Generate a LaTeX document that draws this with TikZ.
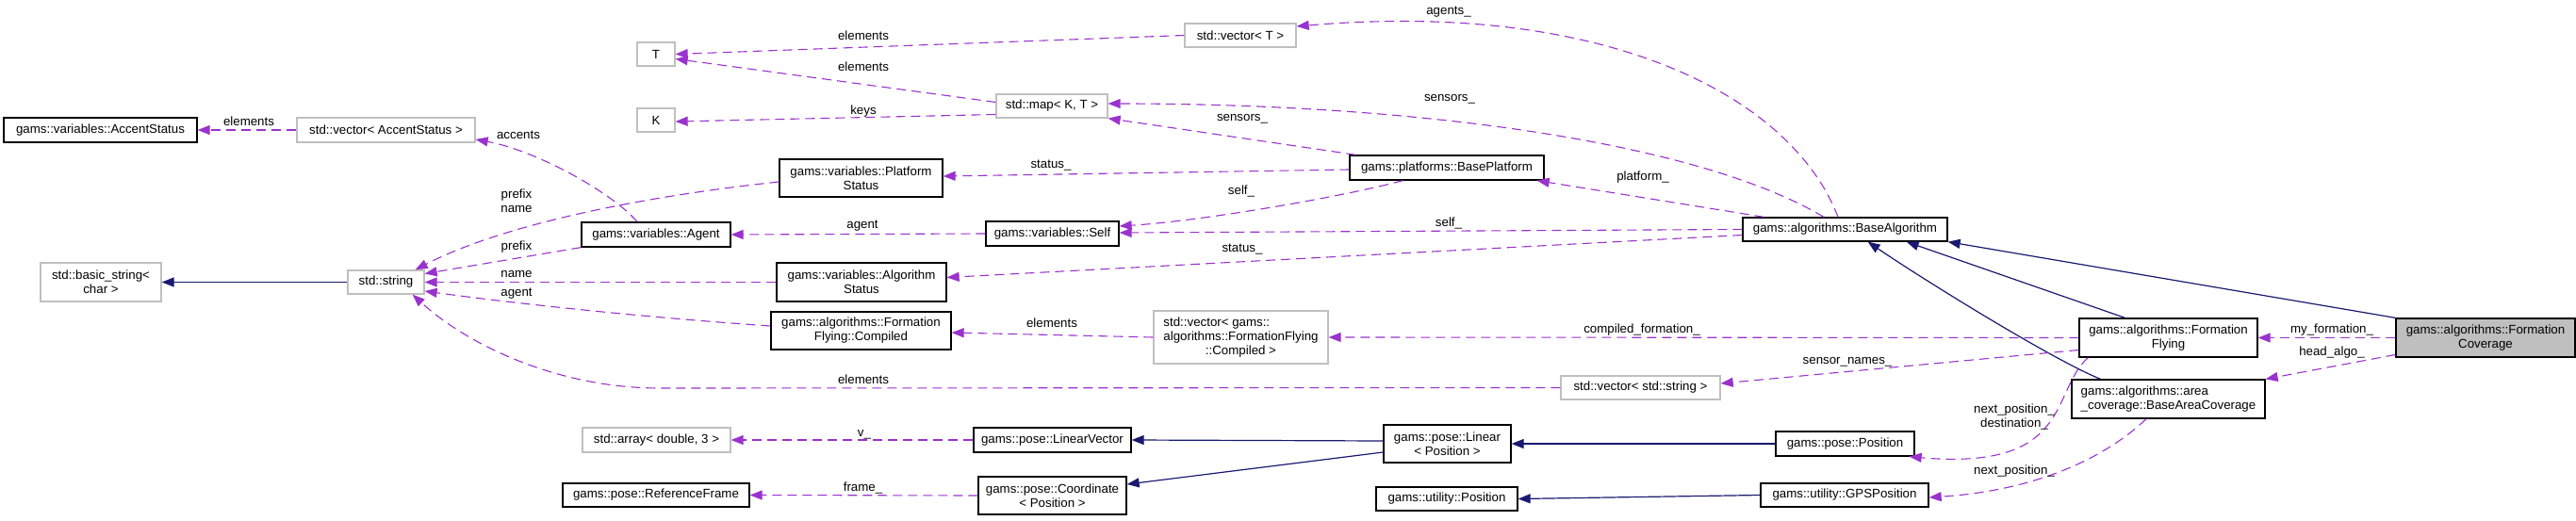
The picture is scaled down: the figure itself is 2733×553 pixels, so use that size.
\documentclass[tikz,border=0pt]{standalone}
\usepackage{fontspec}
\setmainfont{Liberation Sans}
\usetikzlibrary{arrows.meta}
\definecolor{dpurple}{HTML}{9A32CD}
\definecolor{dnavy}{HTML}{191970}
\definecolor{greyl}{HTML}{BFBFBF}
\tikzset{
  cls/.style={draw=black, line width=1.3pt, fill=white, inner sep=0pt, align=center},
  ext/.style={draw=greyl, line width=1.3pt, fill=white, inner sep=0pt, align=center},
  dep/.style={draw=dpurple, line width=1.1pt, dash pattern=on 10pt off 6pt,
    -{Triangle[length=13pt,width=10pt,fill=dpurple]}},
  inh/.style={draw=dnavy, line width=1.2pt,
    -{Triangle[length=13pt,width=10pt,fill=dnavy]}},
  lbl/.style={inner sep=0pt, text height=9.5pt, text depth=2.5pt},
  lbltwo/.style={inner sep=0pt, align=center},
}
\begin{document}
\begin{tikzpicture}[x=1pt,y=-1pt,font=\fontsize{13.3}{15}\selectfont]
\useasboundingbox (0,0) rectangle (2733,553);

% nodes
\node[cls, minimum width=205pt, minimum height=26pt] (accent) at (106.5,138) {gams::variables::AccentStatus};
\node[ext, minimum width=189pt, minimum height=26pt] (vacc) at (409.5,138) {std::vector< AccentStatus >};
\node[ext, minimum width=128pt, minimum height=41pt] (bstr) at (107,299.5) {std::basic\_string<\\char >};
\node[ext, minimum width=81pt, minimum height=25pt] (str) at (409.5,299.5) {std::string};
\node[ext, minimum width=40pt, minimum height=25pt] (t) at (696,57.5) {T};
\node[ext, minimum width=40pt, minimum height=25pt] (k) at (696,127.5) {K};
\node[ext, minimum width=118pt, minimum height=25pt] (vt) at (1316,37.5) {std::vector< T >};
\node[ext, minimum width=118pt, minimum height=25pt] (map) at (1116,112.5) {std::map< K, T >};
\node[cls, minimum width=173pt, minimum height=40pt] (pstat) at (913.5,189) {gams::variables::Platform\\Status};
\node[cls, minimum width=158pt, minimum height=26pt] (agent) at (696,249) {gams::variables::Agent};
\node[cls, minimum width=141pt, minimum height=26pt] (self) at (1116.5,248) {gams::variables::Self};
\node[cls, minimum width=206pt, minimum height=26pt] (bplat) at (1535,178) {gams::platforms::BasePlatform};
\node[cls, minimum width=180pt, minimum height=41pt] (astat) at (914,299.5) {gams::variables::Algorithm\\Status};
\node[cls, minimum width=191pt, minimum height=40pt] (comp) at (913.5,351) {gams::algorithms::Formation\\Flying::Compiled};
\node[ext, minimum width=185pt, minimum height=56pt] (vcomp) at (1316.5,358) {\begin{tabular}{@{}l@{}}std::vector< gams::\\algorithms::FormationFlying\\\multicolumn{1}{@{}c@{}}{::Compiled >}\end{tabular}};
\node[ext, minimum width=169pt, minimum height=25pt] (vstr) at (1740.5,411.5) {std::vector< std::string >};
\node[ext, minimum width=157pt, minimum height=26pt] (arr) at (696.5,467) {std::array< double, 3 >};
\node[cls, minimum width=198pt, minimum height=25pt] (rframe) at (696,525.5) {gams::pose::ReferenceFrame};
\node[cls, minimum width=167pt, minimum height=26pt] (linvec) at (1116.5,467) {gams::pose::LinearVector};
\node[cls, minimum width=157pt, minimum height=40pt] (coord) at (1116.5,526) {gams::pose::Coordinate\\< Position >};
\node[cls, minimum width=135pt, minimum height=40pt] (lin) at (1535.5,471) {gams::pose::Linear\\< Position >};
\node[cls, minimum width=150pt, minimum height=25pt] (upos) at (1535,529.5) {gams::utility::Position};
\node[cls, minimum width=217pt, minimum height=25pt] (balg) at (1957.5,243.5) {gams::algorithms::BaseAlgorithm};
\node[cls, minimum width=147pt, minimum height=26pt] (ppos) at (1957.5,471) {gams::pose::Position};
\node[cls, minimum width=178pt, minimum height=25pt] (gps) at (1957,525.5) {gams::utility::GPSPosition};
\node[cls, minimum width=189pt, minimum height=41pt] (ff) at (2300.5,358.5) {gams::algorithms::Formation\\Flying};
\node[cls, minimum width=205pt, minimum height=41pt] (bac) at (2300.5,423.5) {\begin{tabular}{@{}l@{}}gams::algorithms::area\\\_coverage::BaseAreaCoverage\end{tabular}};
\node[cls, fill=greyl, minimum width=190pt, minimum height=41pt] (fc) at (2637,358.5) {gams::algorithms::Formation\\Coverage};

% inheritance
\draw[inh] (str.west) -- (bstr.east);
\draw[inh] ([yshift=3pt]lin.west) -- (linvec.east);
\draw[inh] ([yshift=-9pt]lin.west) -- ([yshift=12pt]coord.east);
\draw[inh] (ppos.west) -- (lin.east);
\draw[inh] (gps.west) -- (upos.east);
\draw[inh] ([xshift=-46pt]ff.north) -- ([xshift=-44pt]balg.south east);
\draw[inh] (fc.north west) -- (balg.south east);
\draw[inh] ([xshift=-72pt]bac.north) .. controls (2178,382) and (2041,297) .. ([xshift=-85pt]balg.south east);

% usage
\draw[dep] (vacc.west) -- (accent.east);
\draw[dep] ([xshift=-20pt]agent.north) .. controls (650,205) and (570,160) .. ([yshift=-10pt]vacc.east);
\draw[dep] ([yshift=-4pt]pstat.west) .. controls (650,212) and (520,245) .. ([xshift=-10pt]str.north east);
\draw[dep] (agent.south west) -- ([yshift=9pt]str.east);
\draw[dep] (astat.west) -- (str.east);
\draw[dep] ([yshift=5pt]comp.west) .. controls (700,338) and (560,324) .. ([yshift=-9.5pt]str.east);
\coordinate (bend) at (700,412);
\draw[dep] (vstr.west) -- (bend) .. controls (590,412) and (495,365) .. ([xshift=-13pt]str.south east);
\draw[dep] (vt.west) -- (t.east);
\draw[dep] ([yshift=4pt]map.west) -- ([yshift=-5pt]t.east);
\draw[dep] ([yshift=-9pt]map.west) -- ([yshift=-1.5pt]k.east);
\draw[dep] (self.west) -- (agent.east);
\draw[dep] ([yshift=-2pt]bplat.west) -- ([yshift=2pt]pstat.east);
\draw[dep] ([xshift=7pt]bplat.north west) -- (map.south east);
\draw[dep] ([xshift=57pt]bplat.south west) .. controls (1420,210) and (1270,235) .. ([yshift=8pt]self.east);
\draw[dep] ([xshift=-7.5pt]balg.north) .. controls (1900,100) and (1700,0) .. ([yshift=9.5pt]vt.east);
\draw[dep] ([xshift=-22.5pt]balg.north) .. controls (1800,150) and (1500,110) .. ([yshift=2.5pt]map.east);
\draw[dep] ([xshift=23pt]balg.north west) -- ([xshift=-8pt]bplat.south east);
\draw[dep] (balg.west) -- ([yshift=1pt]self.east);
\draw[dep] ([yshift=-6pt]balg.west) -- ([yshift=5pt]astat.east);
\draw[dep] (vcomp.west) -- ([yshift=-2pt]comp.east);
\draw[dep] (ff.west) -- (vcomp.east);
\draw[dep] ([yshift=-13pt]ff.west) -- ([yshift=4.5pt]vstr.east);
\draw[dep] ([xshift=10pt]ff.south west) .. controls (2175,415) and (2200,500) .. ([xshift=-6pt]ppos.south east);
\draw[dep] ([xshift=-23.5pt]bac.south) .. controls (2240,480) and (2170,520) .. ([yshift=-2.5pt]gps.east);
\draw[dep] (fc.west) -- (ff.east);
\draw[dep] ([yshift=-18pt]fc.west) -- (bac.north east);
\draw[dep] (coord.west) -- (rframe.east);
\draw[dep] (linvec.west) -- (arr.east);

% labels
\node[lbl] (l1) at (264,130) {elements};
\node[lbl] (l2) at (550,144) {accents};
\node[lbltwo] (l3) at (548,213) {prefix\\name};
\node[lbl] (l4) at (548,262) {prefix};
\node[lbl] (l5) at (548,291) {name};
\node[lbl] (l6) at (548,311) {agent};
\node[lbl] (l7) at (916,404) {elements};
\node[lbl] (l8) at (916,39) {elements};
\node[lbl] (l9) at (916,72) {elements};
\node[lbl] (l10) at (916,118) {keys};
\node[lbl] (l11) at (915,239) {agent};
\node[lbl] (l12) at (1115,175) {status\_};
\node[lbl] (l13) at (1318,125) {sensors\_};
\node[lbl] (l14) at (1317,203) {self\_};
\node[lbl] (l15) at (1537,12) {agents\_};
\node[lbl] (l16) at (1538,104) {sensors\_};
\node[lbl] (l17) at (1743,188) {platform\_};
\node[lbl] (l18) at (1537,237) {self\_};
\node[lbl] (l19) at (1318,264) {status\_};
\node[lbl] (l20) at (1116,344) {elements};
\node[lbl] (l21) at (1742,350) {compiled\_formation\_};
\node[lbl] (l22) at (1960,383) {sensor\_names\_};
\node[lbltwo] (l23) at (2137,442.5) {next\_position\_\\destination\_};
\node[lbl] (l24) at (2137,500) {next\_position\_};
\node[lbl] (l25) at (2474,350) {my\_formation\_};
\node[lbl] (l26) at (2474,374) {head\_algo\_};
\node[lbl] (l27) at (917,459.5) {v\_};
\node[lbl] (l28) at (915.5,517.5) {frame\_};
\end{tikzpicture}
\end{document}
